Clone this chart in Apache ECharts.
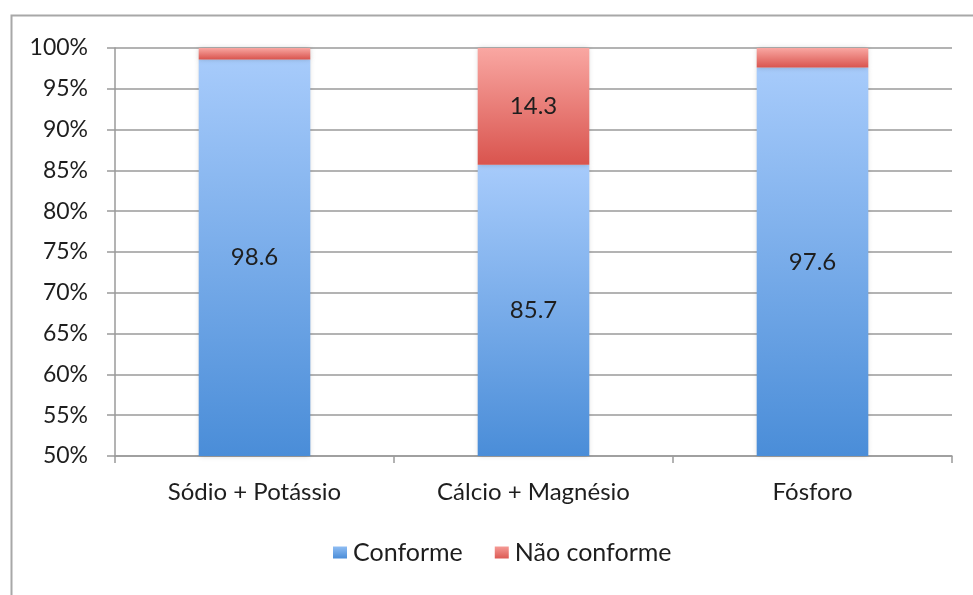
<!DOCTYPE html>
<html>
<head>
<meta charset="utf-8">
<script src="https://cdn.jsdelivr.net/npm/echarts@6/dist/echarts.min.js"></script>
<style>
  html, body { margin: 0; padding: 0; background: #fff; }
  #chart { width: 973px; height: 595px; }
</style>
</head>
<body>
<div id="chart"></div>
<script>
// Stacked percentage bars: conforming vs non-conforming samples per mineral group
const categories = ['Sódio + Potássio', 'Cálcio + Magnésio', 'Fósforo'];
const conforme = [98.6, 85.7, 97.6];
const naoConforme = [1.4, 14.3, 2.4];
const showNaoConformeLabel = [false, true, false];
const yTicks = { min: 50, max: 100, step: 5 };

const FONT = 'Lato, "Open Sans", sans-serif';
const TEXT = '#1e1e1e';

const blueFill = new echarts.graphic.LinearGradient(0, 0, 0, 1, [
  { offset: 0, color: '#a7cbfb' },
  { offset: 1, color: '#4a8dd8' }
]);
const redFill = new echarts.graphic.LinearGradient(0, 0, 0, 1, [
  { offset: 0, color: '#f9a7a2' },
  { offset: 1, color: '#d9544e' }
]);
const blueIcon = new echarts.graphic.LinearGradient(0, 0, 0, 1, [
  { offset: 0, color: '#8fbdf3' },
  { offset: 1, color: '#4a8dd8' }
]);
const redIcon = new echarts.graphic.LinearGradient(0, 0, 0, 1, [
  { offset: 0, color: '#f59a95' },
  { offset: 1, color: '#dc5a54' }
]);

const chart = echarts.init(document.getElementById('chart'), null, { renderer: 'canvas' });

const barShadow = {
  shadowColor: 'rgba(0,0,0,0.18)',
  shadowBlur: 5
};

const valueLabel = {
  position: 'inside',
  fontFamily: FONT,
  fontSize: 24,
  color: TEXT,
  formatter: p => p.value.toFixed(1)
};

chart.setOption({
  animation: false,
  backgroundColor: '#ffffff',
  graphic: [{
    type: 'rect',
    left: 9, top: 13,
    shape: { width: 990, height: 620 },
    style: { fill: 'none', stroke: '#a8a8a8', lineWidth: 2 },
    silent: true,
    z: -10
  }],
  grid: { left: 115, right: 21, top: 48, bottom: 139, containLabel: false },
  legend: {
    bottom: 25,
    left: 328,
    itemWidth: 14,
    itemHeight: 12,
    itemGap: 32,
    icon: 'rect',
    textStyle: { fontFamily: FONT, fontSize: 25, color: TEXT, padding: [0, 0, 0, 1] },
    data: [
      { name: 'Conforme', itemStyle: { color: blueIcon } },
      { name: 'Não conforme', itemStyle: { color: redIcon } }
    ]
  },
  xAxis: {
    type: 'category',
    data: categories,
    axisLine: { show: true, lineStyle: { color: '#9a9a9a', width: 1.5 } },
    axisTick: { show: true, length: 7, alignWithLabel: false, lineStyle: { color: '#9a9a9a', width: 1.5 } },
    axisLabel: { fontFamily: FONT, fontSize: 24, color: TEXT, margin: 24 },
    splitLine: { show: false }
  },
  yAxis: {
    type: 'value',
    min: yTicks.min,
    max: yTicks.max,
    interval: yTicks.step,
    axisLine: { show: true, lineStyle: { color: '#9a9a9a', width: 1.5 } },
    axisTick: { show: true, length: 8, lineStyle: { color: '#9a9a9a', width: 1.5 } },
    axisLabel: { fontFamily: FONT, fontSize: 23, color: TEXT, margin: 27, formatter: v => v + '%' },
    splitLine: { show: true, lineStyle: { color: '#9a9a9a', width: 1.5 } }
  },
  series: [
    {
      name: 'Conforme',
      type: 'bar',
      stack: 'total',
      barWidth: '40%',
      data: conforme,
      itemStyle: Object.assign({ color: blueFill }, barShadow),
      label: Object.assign({ show: true }, valueLabel)
    },
    {
      name: 'Não conforme',
      type: 'bar',
      stack: 'total',
      barWidth: '40%',
      data: naoConforme.map((v, i) => ({
        value: v,
        label: Object.assign({ show: showNaoConformeLabel[i] }, valueLabel)
      })),
      itemStyle: Object.assign({ color: redFill }, barShadow)
    }
  ]
});
</script>
</body>
</html>
